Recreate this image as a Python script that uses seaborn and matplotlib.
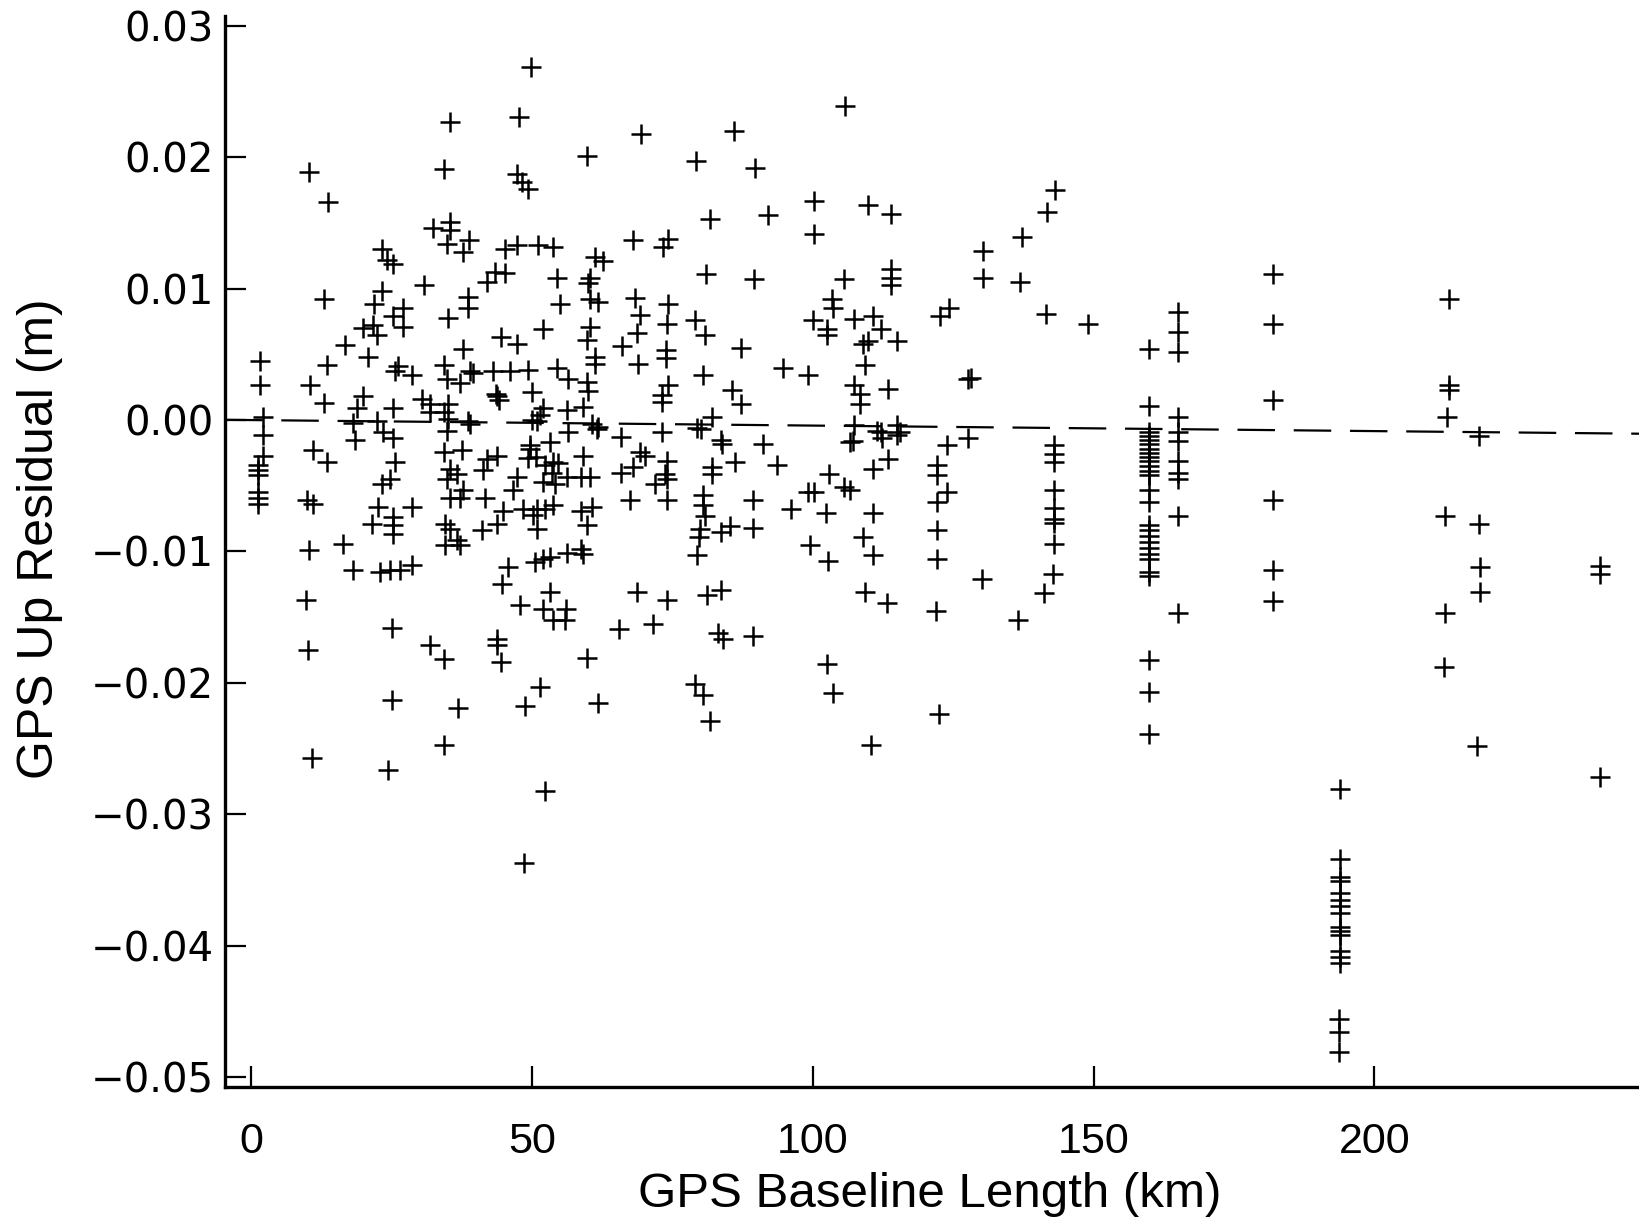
import numpy as np
import pandas as pd
import matplotlib
matplotlib.use("Agg")
import matplotlib.pyplot as plt
import seaborn as sns

# ---------------- data ----------------
baseline_km = [
    49.9, 35.4, 47.7, 10.4, 34.3, 47.3, 48.3, 49.4, 13.8, 32.4, 35.5, 35.5, 34.9, 38.9, 37.8, 45.3,
    47.4, 51.1, 23.3, 24.2, 25.3, 30.8, 43.5, 45.3, 42.1, 38.7, 38.7, 13.0, 23.3, 21.9, 25.3, 27.1,
    27.1, 20.0, 21.8, 22.5, 16.8, 20.9, 13.6, 35.1, 37.8, 44.5, 47.4, 52.0, 1.6, 1.6, 10.5, 13.0,
    26.2, 25.7, 28.7, 34.3, 34.9, 37.2, 39.0, 39.6, 43.1, 46.2, 49.4, 43.8, 44.2, 43.6, 50.1, 52.0,
    18.9, 20.0, 25.3, 30.5, 31.9, 35.1, 34.3, 38.7, 22.5, 18.2, 2.2, 51.0, 2.2, 34.9,
    2.2, 1.3, 1.3, 1.3, 1.3, 1.3, 1.3, 11.1, 13.6, 10.0, 11.1, 18.6, 23.6, 25.3, 25.7, 24.8,
    23.3, 22.6, 28.7, 21.6, 25.3, 25.3, 25.3, 16.4, 18.2, 23.0, 24.8, 26.6, 28.7, 10.4, 9.8, 25.1,
    10.2, 31.9, 34.3, 10.9, 25.1, 36.9, 24.4, 34.3, 43.8, 43.8, 44.5, 51.5, 48.8, 52.3, 34.6, 35.5,
    36.7, 34.6, 37.2, 34.3, 37.6, 35.5, 36.7, 34.9, 37.8, 37.2, 35.5, 41.7, 42.1, 41.3, 43.8, 41.2,
    43.8, 44.9, 47.4, 46.7, 49.7, 49.4, 48.4, 50.3, 51.0, 52.3, 45.8, 44.7, 47.9, 52.0, 50.6, 52.0,
    50.1, 51.5, 52.3, 52.0, 31.9, 35.1, 39.0, 48.6,
    105.8, 69.5, 86.0, 59.9, 79.3, 89.8, 100.2, 92.0, 81.8, 100.2, 53.8, 68.1, 74.3, 73.4, 61.3, 62.6,
    54.5, 60.4, 60.1, 81.1, 89.6, 105.5, 55.1, 60.4, 61.8, 68.4, 74.3, 69.3, 103.5, 103.7, 100.0, 102.6,
    102.6, 60.4, 59.9, 68.8, 74.1, 79.1, 80.9, 66.1, 61.3, 61.3, 73.9, 73.9, 87.2, 69.0, 54.5, 56.5,
    59.9, 60.1, 74.3, 73.2, 73.2, 80.4, 85.7, 87.2, 94.8, 99.1, 82.1, 56.3, 59.2, 80.1, 73.2, 65.8,
    61.7,
    79.5, 83.6, 83.9, 91.1, 86.2, 93.7, 103.0, 82.1, 82.1, 80.5, 80.5, 80.9, 80.0, 79.7, 79.5, 83.6,
    85.3, 89.4, 89.4, 96.1, 99.1, 100.2, 102.3, 99.6, 102.8, 105.5, 69.3, 70.2, 74.1, 73.8, 74.1, 72.0,
    65.8, 68.1, 67.5, 74.1, 53.3, 49.7, 50.7, 53.8, 54.7, 53.6, 54.2, 56.3, 58.7, 59.2, 60.4, 56.5,
    60.8, 61.8, 51.0, 53.8, 58.7, 60.8, 59.9, 53.3, 56.3, 58.7, 59.2, 53.3, 53.8, 56.1, 56.0, 68.8,
    74.1, 71.6, 65.6, 81.2, 83.6, 83.2, 84.1, 89.4, 59.9, 61.8, 79.1, 80.4, 81.8, 102.6, 103.7,
    143.1, 141.8, 109.8, 114.0, 130.4, 137.2, 113.9, 113.9, 113.9, 130.4, 137.0, 122.7, 124.2, 141.6, 149.0, 107.3,
    110.8, 112.1, 109.0, 109.8, 115.1, 109.4, 107.3, 108.5, 108.5, 113.5, 127.7, 128.2, 107.3, 111.5, 112.1, 115.1,
    115.6, 127.6,
    106.7, 107.2, 112.4, 115.1, 113.5, 110.8, 106.7, 110.8, 109.0, 110.8, 109.4, 113.3, 124.0, 122.2, 122.2, 124.0,
    122.2, 122.2, 122.2, 130.1, 122.0, 136.5, 142.9, 142.9, 142.9, 142.9, 142.9, 142.9, 142.9, 142.9, 142.7, 141.1,
    122.5, 110.4,
    159.8, 159.8, 159.8, 159.8, 159.8, 159.8, 159.8, 159.8, 159.8, 159.8, 159.8, 159.8, 159.8, 159.8, 159.8, 159.8,
    159.8, 159.8, 159.8, 159.8, 159.8, 159.8, 159.8, 159.8, 159.8, 159.8, 159.8,
    165.0, 165.0, 165.0, 165.0, 165.0, 165.0, 165.0, 165.0, 165.0, 165.0, 165.0,
    181.9, 181.9, 181.9, 181.9, 181.9, 181.9,
    193.9, 193.8, 193.8, 193.8, 193.8, 193.8, 193.8, 193.8, 193.8, 193.8, 193.8, 193.8, 193.8, 193.8, 193.7, 193.7,
    193.7,
    213.3, 213.3, 213.3, 212.9, 212.6, 212.6, 212.4,
    218.6, 218.6, 218.8, 218.8, 218.3,
    240.1, 240.1, 240.1,
]

residual_m = [
    0.0269, 0.0227, 0.0231, 0.0189, 0.0191, 0.0187, 0.0181, 0.0176, 0.0166, 0.0146, 0.0151, 0.0145, 0.0134, 0.0137, 0.0128, 0.0130,
    0.0133, 0.0133, 0.0130, 0.0122, 0.0119, 0.0103, 0.0113, 0.0112, 0.0105, 0.0094, 0.0085, 0.0092, 0.0098, 0.0088, 0.0079, 0.0085,
    0.0071, 0.0070, 0.0072, 0.0065, 0.0057, 0.0048, 0.0042, 0.0078, 0.0054, 0.0063, 0.0058, 0.0069, 0.0045, 0.0027, 0.0027, 0.0013,
    0.0041, 0.0037, 0.0034, 0.0042, 0.0031, 0.0028, 0.0037, 0.0036, 0.0037, 0.0037, 0.0038, 0.0018, 0.0015, 0.0020, 0.0021, 0.0009,
    0.0009, 0.0018, 0.0009, 0.0016, 0.0012, 0.0012, 0.0006, -0.0001, -0.0001, -0.0002, 0.0002, -0.0001, -0.0011, -0.0008,
    -0.0027, -0.0034, -0.0038, -0.0042, -0.0055, -0.0059, -0.0064, -0.0023, -0.0032, -0.0061, -0.0064, -0.0015, -0.0009, -0.0014, -0.0032, -0.0045,
    -0.0049, -0.0066, -0.0066, -0.0079, -0.0074, -0.0080, -0.0087, -0.0094, -0.0114, -0.0116, -0.0114, -0.0114, -0.0110, -0.0099, -0.0137, -0.0158,
    -0.0175, -0.0171, -0.0182, -0.0257, -0.0213, -0.0219, -0.0266, -0.0247, -0.0167, -0.0171, -0.0184, -0.0203, -0.0218, -0.0282, -0.0079, -0.0083,
    -0.0091, -0.0095, -0.0095, -0.0024, -0.0023, -0.0037, -0.0041, -0.0045, -0.0053, -0.0059, -0.0059, -0.0059, -0.0030, -0.0038, -0.0027, -0.0084,
    -0.0079, -0.0069, -0.0043, -0.0053, -0.0022, -0.0029, -0.0068, -0.0072, -0.0083, -0.0068, -0.0112, -0.0125, -0.0141, -0.0144, -0.0108, -0.0106,
    0.0000, 0.0004, -0.0034, -0.0047, 0.0006, 0.0001, -0.0003, -0.0337,
    0.0239, 0.0218, 0.0220, 0.0201, 0.0197, 0.0192, 0.0167, 0.0156, 0.0153, 0.0142, 0.0132, 0.0137, 0.0138, 0.0132, 0.0124, 0.0121,
    0.0108, 0.0108, 0.0104, 0.0111, 0.0107, 0.0107, 0.0088, 0.0092, 0.0090, 0.0093, 0.0088, 0.0080, 0.0092, 0.0085, 0.0076, 0.0069,
    0.0065, 0.0071, 0.0061, 0.0066, 0.0073, 0.0076, 0.0065, 0.0056, 0.0048, 0.0043, 0.0053, 0.0047, 0.0055, 0.0043, 0.0040, 0.0031,
    0.0029, 0.0022, 0.0027, 0.0019, 0.0014, 0.0034, 0.0023, 0.0012, 0.0040, 0.0034, 0.0002, 0.0008, 0.0010, -0.0007, -0.0009, -0.0013,
    -0.0007,
    -0.0006, -0.0015, -0.0018, -0.0018, -0.0032, -0.0034, -0.0041, -0.0036, -0.0041, -0.0057, -0.0065, -0.0073, -0.0083, -0.0089, -0.0103, -0.0085,
    -0.0081, -0.0061, -0.0082, -0.0068, -0.0055, -0.0055, -0.0071, -0.0095, -0.0107, -0.0051, -0.0024, -0.0027, -0.0031, -0.0041, -0.0045, -0.0049,
    -0.0040, -0.0036, -0.0061, -0.0061, -0.0017, -0.0019, -0.0028, -0.0032, -0.0033, -0.0040, -0.0049, -0.0043, -0.0043, -0.0027, -0.0043, -0.0009,
    -0.0003, -0.0005, -0.0068, -0.0065, -0.0069, -0.0066, -0.0080, -0.0104, -0.0101, -0.0098, -0.0102, -0.0131, -0.0152, -0.0144, -0.0152, -0.0131,
    -0.0137, -0.0155, -0.0159, -0.0133, -0.0129, -0.0162, -0.0167, -0.0164, -0.0181, -0.0215, -0.0201, -0.0209, -0.0229, -0.0186, -0.0208,
    0.0175, 0.0158, 0.0164, 0.0157, 0.0129, 0.0139, 0.0115, 0.0108, 0.0103, 0.0108, 0.0105, 0.0079, 0.0085, 0.0081, 0.0073, 0.0077,
    0.0079, 0.0069, 0.0058, 0.0060, 0.0060, 0.0042, 0.0027, 0.0020, 0.0012, 0.0024, 0.0031, 0.0032, -0.0004, -0.0008, -0.0009, -0.0004,
    -0.0009, -0.0014,
    -0.0017, -0.0016, -0.0014, -0.0011, -0.0030, -0.0037, -0.0053, -0.0071, -0.0089, -0.0103, -0.0131, -0.0139, -0.0019, -0.0034, -0.0042, -0.0055,
    -0.0062, -0.0084, -0.0106, -0.0121, -0.0145, -0.0152, -0.0019, -0.0026, -0.0032, -0.0053, -0.0067, -0.0075, -0.0078, -0.0094, -0.0117, -0.0132,
    -0.0224, -0.0247,
    0.0054, 0.0011, -0.0009, -0.0012, -0.0015, -0.0018, -0.0022, -0.0025, -0.0028, -0.0031, -0.0035, -0.0039, -0.0042, -0.0053, -0.0062, -0.0080,
    -0.0084, -0.0088, -0.0093, -0.0097, -0.0102, -0.0106, -0.0116, -0.0119, -0.0183, -0.0207, -0.0239,
    0.0082, 0.0067, 0.0052, 0.0002, -0.0009, -0.0016, -0.0031, -0.0040, -0.0045, -0.0073, -0.0147,
    0.0111, 0.0073, 0.0015, -0.0061, -0.0114, -0.0138,
    -0.0281, -0.0334, -0.0348, -0.0351, -0.0360, -0.0365, -0.0370, -0.0375, -0.0386, -0.0389, -0.0392, -0.0404, -0.0409, -0.0413, -0.0456, -0.0466,
    -0.0481,
    0.0092, 0.0027, 0.0023, 0.0002, -0.0073, -0.0147, -0.0188,
    -0.0012, -0.0079, -0.0112, -0.0131, -0.0248,
    -0.0111, -0.0117, -0.0272,
]

# least-squares trend line shown dashed (intercept in m, slope in m per km)
fit_intercept = 0.0
fit_slope = -4.2e-6

x_ticks = [0, 50, 100, 150, 200]
x_tick_labels = ["0", "50", "100", "150", "200"]
y_ticks = [0.03, 0.02, 0.01, 0.00, -0.01, -0.02, -0.03, -0.04, -0.05]
y_tick_labels = ["0.03", "0.02", "0.01", "0.00", "\u22120.01", "\u22120.02", "\u22120.03", "\u22120.04", "\u22120.05"]

x_label = "GPS Baseline Length (km)"
y_label = "GPS Up Residual (m)"

# ---------------- plotting ----------------
sns.set_style("ticks")
plt.rcParams["font.family"] = ["DejaVu Sans"]
plt.rcParams["lines.scale_dashes"] = False
plt.rcParams["text.color"] = "black"
plt.rcParams["axes.labelcolor"] = "black"
plt.rcParams["xtick.color"] = "black"
plt.rcParams["ytick.color"] = "black"
plt.rcParams["axes.edgecolor"] = "black"

df = pd.DataFrame({"baseline": baseline_km, "residual": residual_m})

fig = plt.figure(figsize=(16.39, 12.25), dpi=100)
ax = fig.add_axes([0.1373, 0.1127, 0.8627, 0.8745])

sns.scatterplot(data=df, x="baseline", y="residual", marker="+", s=210,
                color="black", linewidth=1.8, ax=ax, legend=False, zorder=3)

ax.set_xlim(-4.6, 247.1)
ax.set_ylim(-0.05076, 0.03078)

xs = np.array(ax.get_xlim())
ax.plot(xs, fit_intercept + fit_slope * xs, color="black", lw=1.6,
        linestyle=(0, (27, 13.5)), zorder=2)

ax.set_xticks(x_ticks)
ax.set_xticklabels(x_tick_labels, family=["Liberation Sans", "DejaVu Sans"], fontsize=31, color="black")
ax.set_yticks(y_ticks)
ax.set_yticklabels(y_tick_labels, family=["DejaVu Sans"], fontsize=29, color="black")

ax.tick_params(axis="both", direction="in", length=15, width=1.6, color="black")
ax.tick_params(axis="x", pad=25)
ax.tick_params(axis="y", pad=8)

for side in ["top", "right"]:
    ax.spines[side].set_visible(False)
for side in ["left", "bottom"]:
    ax.spines[side].set_linewidth(2.4)
    ax.spines[side].set_color("black")

ax.set_xlabel(x_label, family=["Liberation Sans", "DejaVu Sans"], fontsize=35.5, color="black")
ax.set_ylabel(y_label, family=["Liberation Sans", "DejaVu Sans"], fontsize=36, color="black")
ax.xaxis.set_label_coords(0.498, -0.1008)
ax.xaxis.label.set_va("center")
ax.yaxis.set_label_coords(-0.131, 0.512)
ax.yaxis.label.set_va("center")

fig.savefig("out.png", dpi=100, facecolor="white")
